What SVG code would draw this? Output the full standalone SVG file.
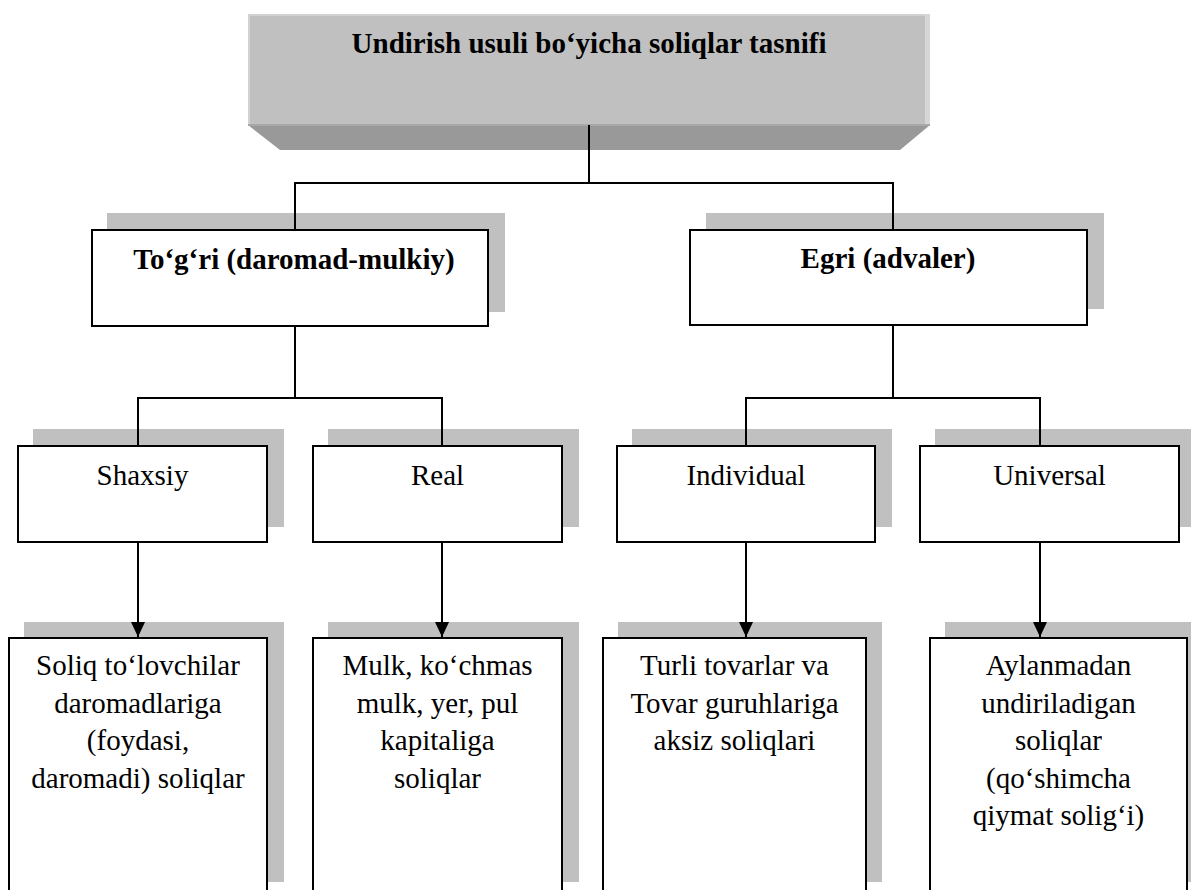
<svg xmlns="http://www.w3.org/2000/svg" width="1191" height="890" viewBox="0 0 1191 890">
  <defs>
    <marker id="arrow" markerWidth="16" markerHeight="14" refX="15" refY="7" orient="auto" markerUnits="userSpaceOnUse">
      <path d="M0,0 L15,7 L0,14 Z" fill="#000"/>
    </marker>
  </defs>
  <style>
    .shadow { fill: #c0c0c0; }
    .box { fill: #ffffff; stroke: #000; stroke-width: 2; }
    .conn { fill: none; stroke: #000; stroke-width: 2; }
    .t { font-family: "Liberation Serif", "Times New Roman", serif; font-size: 29px; fill: #000; text-anchor: middle; }
    .b { font-weight: bold; }
  </style>
  <rect x="0" y="0" width="1191" height="890" fill="#ffffff"/>

  <!-- title block with bevelled base -->
  <g id="root">
    <polygon points="248,125 930,125 900,150 280,150" fill="#999999"/>
    <rect x="248" y="14" width="682" height="112" fill="#c0c0c0"/>
    <rect x="248" y="14" width="682" height="2" fill="#d2d2d2"/>
    <rect x="248" y="14" width="2" height="112" fill="#d2d2d2"/>
    <rect x="925" y="14" width="5" height="112" fill="#d6d6d6"/>
    <rect x="248" y="124" width="682" height="2" fill="#a8a8a8"/>
    <text class="t b" x="589" y="53">Undirish usuli bo‘yicha soliqlar tasnifi</text>
  </g>

  <g id="direct">
    <rect class="shadow" x="107" y="213" width="398" height="99"/>
    <rect class="box" x="92" y="230" width="396" height="96"/>
    <text class="t b" x="294" y="269">To‘g‘ri (daromad-mulkiy)</text>
  </g>

  <g id="indirect">
    <rect class="shadow" x="706" y="213" width="398" height="96"/>
    <rect class="box" x="690" y="230" width="397" height="95"/>
    <text class="t b" x="888" y="268">Egri (advaler)</text>
  </g>

  <g id="personal">
    <rect class="shadow" x="33" y="429" width="251" height="98"/>
    <rect class="box" x="18" y="446" width="249" height="96"/>
    <text class="t" x="142.5" y="485">Shaxsiy</text>
  </g>

  <g id="real">
    <rect class="shadow" x="328" y="429" width="251" height="98"/>
    <rect class="box" x="313" y="446" width="249" height="96"/>
    <text class="t" x="437.5" y="485">Real</text>
  </g>

  <g id="individual">
    <rect class="shadow" x="632" y="429" width="260" height="98"/>
    <rect class="box" x="617" y="446" width="258" height="96"/>
    <text class="t" x="746" y="485">Individual</text>
  </g>

  <g id="universal">
    <rect class="shadow" x="935" y="429" width="260" height="98"/>
    <rect class="box" x="920" y="446" width="259" height="96"/>
    <text class="t" x="1049.5" y="485">Universal</text>
  </g>

  <g id="income-taxes">
    <rect class="shadow" x="24" y="622" width="260" height="260"/>
    <rect class="box" x="9" y="638" width="258" height="262"/>
    <text class="t" x="138" y="675">Soliq to‘lovchilar</text>
    <text class="t" x="138" y="712.5">daromadlariga</text>
    <text class="t" x="138" y="750">(foydasi,</text>
    <text class="t" x="138" y="787.5">daromadi) soliqlar</text>
  </g>

  <g id="property-taxes">
    <rect class="shadow" x="328" y="622" width="251" height="260"/>
    <rect class="box" x="313" y="638" width="249" height="262"/>
    <text class="t" x="437.5" y="675">Mulk, ko‘chmas</text>
    <text class="t" x="437.5" y="712.5">mulk, yer, pul</text>
    <text class="t" x="437.5" y="750">kapitaliga</text>
    <text class="t" x="437.5" y="787.5">soliqlar</text>
  </g>

  <g id="excise-taxes">
    <rect class="shadow" x="618" y="622" width="264" height="260"/>
    <rect class="box" x="603" y="638" width="263" height="262"/>
    <text class="t" x="734.5" y="675">Turli tovarlar va</text>
    <text class="t" x="734.5" y="712.5">Tovar guruhlariga</text>
    <text class="t" x="734.5" y="750">aksiz soliqlari</text>
  </g>

  <g id="turnover-taxes">
    <rect class="shadow" x="945" y="622" width="260" height="260"/>
    <rect class="box" x="930" y="638" width="257" height="262"/>
    <text class="t" x="1058.5" y="675">Aylanmadan</text>
    <text class="t" x="1058.5" y="712.5">undiriladigan</text>
    <text class="t" x="1058.5" y="750">soliqlar</text>
    <text class="t" x="1058.5" y="787.5">(qo‘shimcha</text>
    <text class="t" x="1058.5" y="825">qiymat solig‘i)</text>
  </g>

  <!-- connectors, drawn over the drop shadows -->
  <g id="connectors">
    <path class="conn" d="M589,125 V183 M295,183 H893 M295,182 V230 M893,182 V230"/>
    <path class="conn" d="M295,326 V398 M138,398 H442 M138,397 V446 M442,397 V446"/>
    <path class="conn" d="M893,325 V398 M746,398 H1040 M746,397 V446 M1040,397 V446"/>
    <path class="conn" d="M138,542 V637" marker-end="url(#arrow)"/>
    <path class="conn" d="M442,542 V637" marker-end="url(#arrow)"/>
    <path class="conn" d="M746,542 V637" marker-end="url(#arrow)"/>
    <path class="conn" d="M1040,542 V637" marker-end="url(#arrow)"/>
  </g>
</svg>
